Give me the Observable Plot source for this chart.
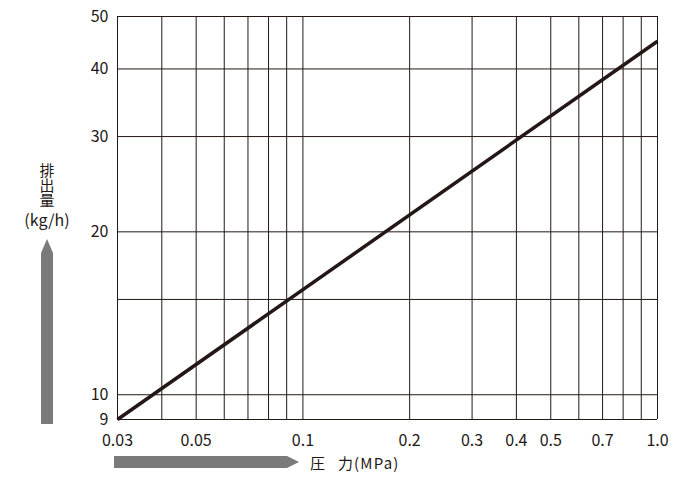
<!DOCTYPE html>
<html><head><meta charset="utf-8">
<script src="https://cdn.jsdelivr.net/npm/d3@7"></script>
<script src="https://cdn.jsdelivr.net/npm/@observablehq/plot@0.6"></script>
<style>
body{margin:0;background:#fff;}
#chart{position:relative;width:700px;height:491px;}
</style>
</head><body>
<div id="chart"></div>
<script>
// ---- data ----
const pressure = [0.03, 1.0];          // MPa
const discharge = [9, 45];             // kg/h
const xGrid = [0.03,0.04,0.05,0.06,0.07,0.08,0.09,0.1,0.2,0.3,0.4,0.5,0.6,0.7,0.8,0.9,1.0];
const yGrid = [9,10,15,20,30,40,50];
const xTicks = [0.03,0.05,0.1,0.2,0.3,0.4,0.5,0.7,1.0];
const xTickLabels = ["0.03","0.05","0.1","0.2","0.3","0.4","0.5","0.7","1.0"];
const yTicks = [9,10,20,30,40,50];
const yTickLabels = ["9","10","20","30","40","50"];
const xTitleParts = ["圧","力","(MPa)"];
const yTitle = "排出量";
const yUnit = "(kg/h)";

const ink = "#231815";
const arrowGray = "#7a7a7a";
const font = "'Noto Sans CJK JP','Noto Sans',sans-serif";

const rows = pressure.map((p,i)=>({p, q: discharge[i]}));
const xLab = xTicks.map((t,i)=>({t, s: xTickLabels[i]}));
const yLab = yTicks.map((t,i)=>({t, s: yTickLabels[i]}));

const plot = Plot.plot({
  width: 700, height: 491,
  marginLeft: 117, marginRight: 43, marginTop: 16, marginBottom: 72,
  style: {fontFamily: font, fontSize: "16px", color: ink, background: "#fff"},
  x: {type: "log", domain: [0.03, 1.0], axis: null},
  y: {type: "log", domain: [9, 50], axis: null},
  marks: [
    Plot.ruleX(xGrid, {stroke: ink, strokeWidth: 1, strokeOpacity: 1}),
    Plot.ruleY(yGrid, {stroke: ink, strokeWidth: 1, strokeOpacity: 1}),
    Plot.text(xLab, {x: "t", text: "s", frameAnchor: "bottom", lineAnchor: "bottom", dy: 26, fill: ink, fontSize: 16}),
    Plot.text(yLab, {y: "t", text: "s", frameAnchor: "left", textAnchor: "end", lineAnchor: "middle", dx: -9, fill: ink, fontSize: 16}),
    Plot.line(rows, {x: "p", y: "q", stroke: ink, strokeWidth: 3.5, strokeLinecap: "butt"})
  ]
});
document.getElementById("chart").appendChild(plot);

// decorations: arrows and axis titles
const svg = d3.select(plot);
svg.append("polygon")
  .attr("points", "41,424 53,424 53,253 47,239 41,253")
  .attr("fill", arrowGray);
svg.append("polygon")
  .attr("points", "114,456 287,456 299,462 287,468 114,468")
  .attr("fill", arrowGray);
const xt = svg.append("text")
  .attr("y", 469)
  .attr("font-family", font).attr("font-size", 15).attr("fill", ink)
  .attr("text-anchor", "start");
xt.append("tspan").attr("x", 310).text(xTitleParts[0]);
xt.append("tspan").attr("x", 338).text(xTitleParts[1]);
xt.append("tspan").attr("x", 354).attr("letter-spacing", 1.2).text(xTitleParts[2]);
svg.append("text")
  .attr("x", 47).attr("y", 163)
  .attr("font-family", font).attr("font-size", 15).attr("fill", ink)
  .attr("writing-mode", "vertical-rl")
  .attr("text-anchor", "start")
  .text(yTitle);
svg.append("text")
  .attr("x", 47).attr("y", 226)
  .attr("font-family", font).attr("font-size", 16).attr("fill", ink)
  .attr("text-anchor", "middle")
  .text(yUnit);
</script>
</body></html>
